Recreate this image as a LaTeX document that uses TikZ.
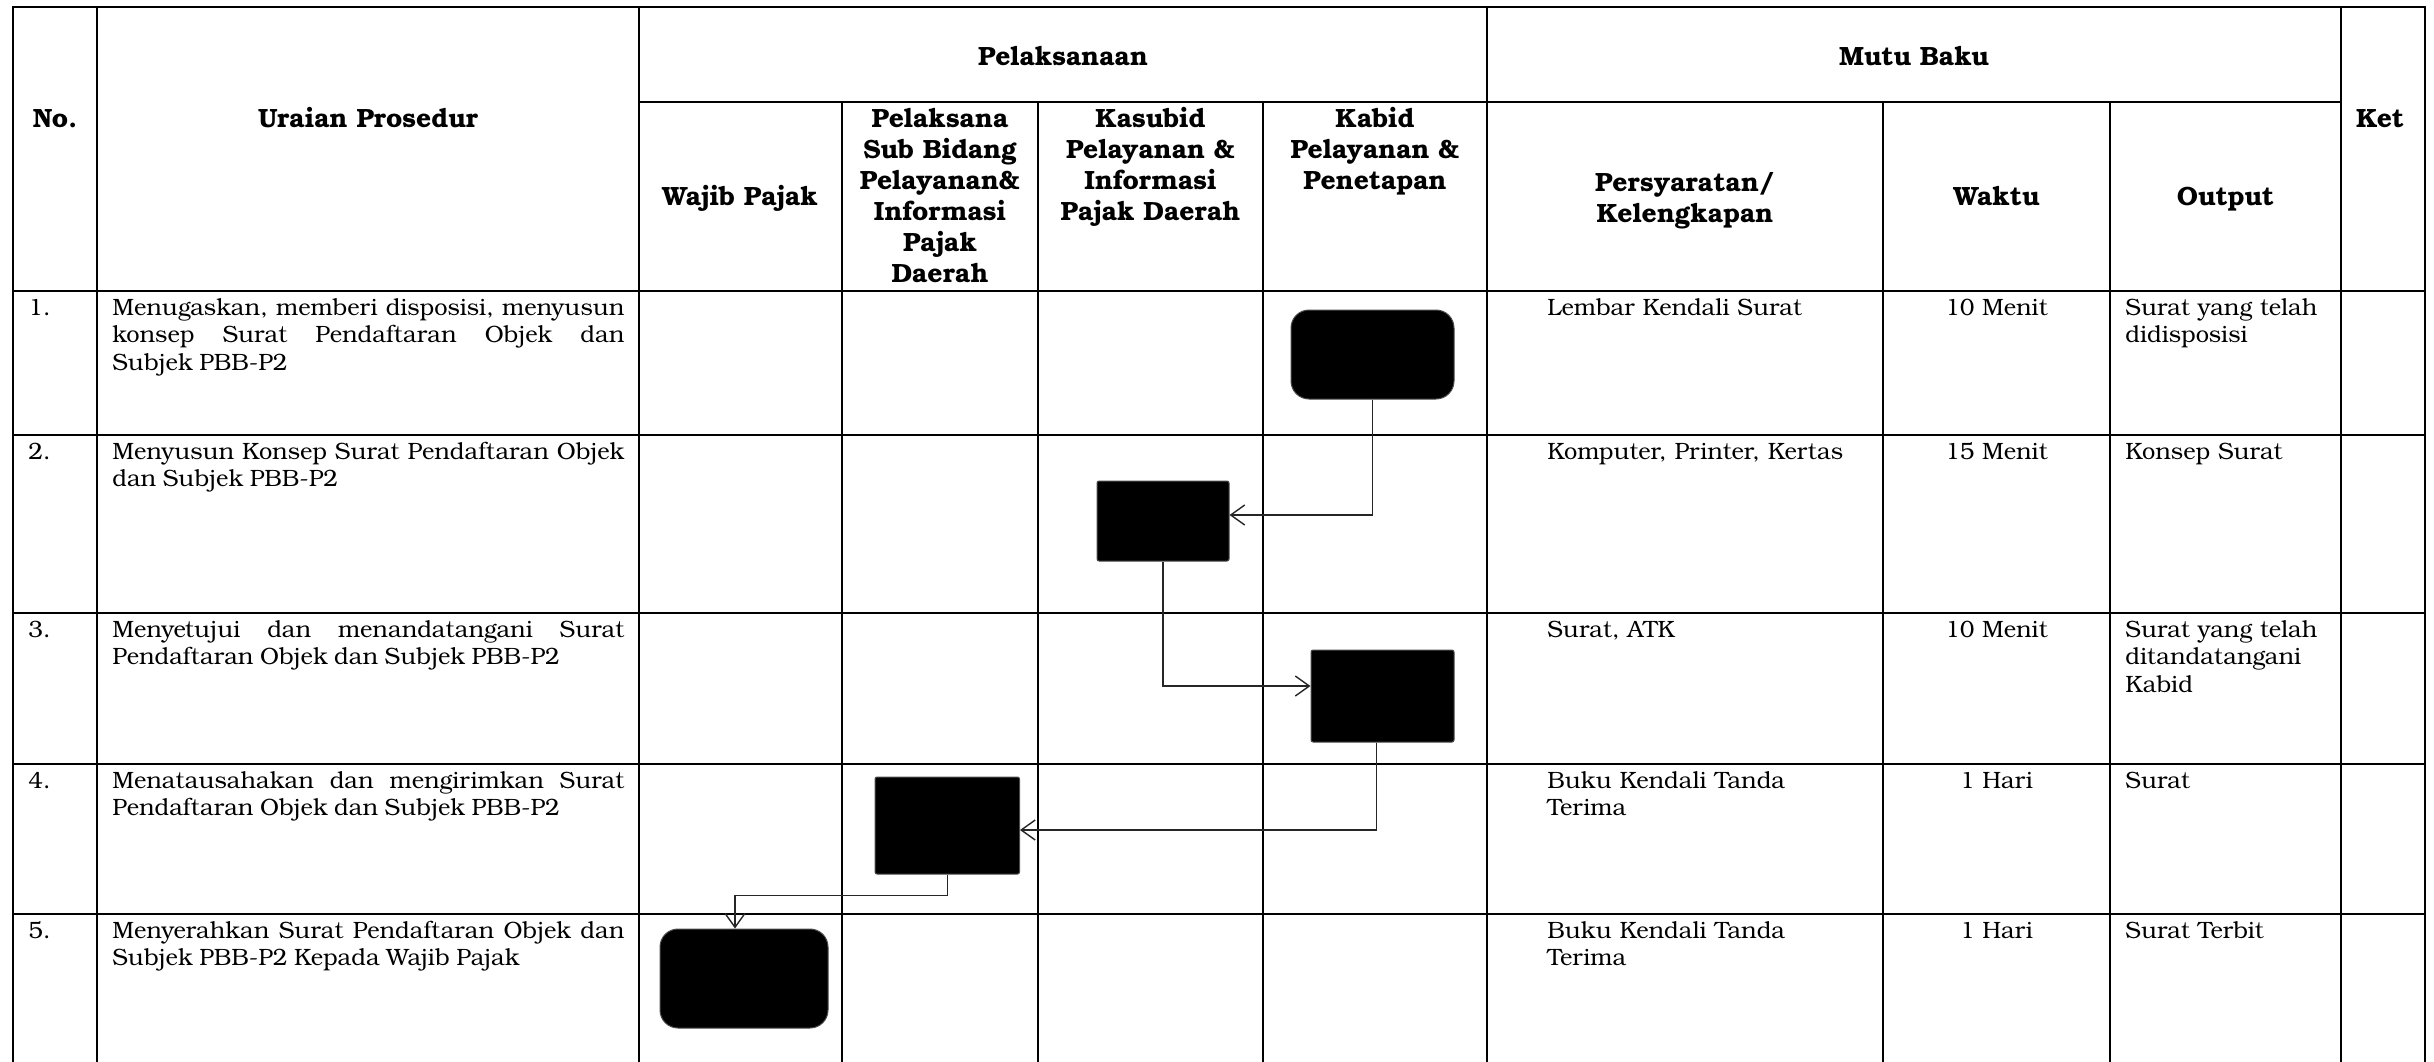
\documentclass[tikz,border=0pt]{standalone}
\usepackage{fontspec}
\setmainfont{TeX Gyre Bonum}
\usetikzlibrary{arrows.meta}
\hyphenpenalty=10000
\begin{document}
\begin{tikzpicture}[x=0.5pt,y=-0.5pt,
  grid/.style={line width=1.1pt,line cap=rect},
  hdr/.style={font=\bfseries\fontsize{13.2}{15.5}\selectfont,inner sep=0pt,align=center},
  bodytxt/.style={font=\fontsize{11.8}{13.85}\selectfont,inner sep=0pt},
  ura/.style={bodytxt,anchor=base west,text width=256pt,align=justify,
    execute at begin node={\spaceskip=0.28em plus 0.8em minus 0.14em\relax}},
  persy/.style={bodytxt,anchor=base west,text width=165pt,align=left},
  outp/.style={bodytxt,anchor=base west,text width=108pt,align=left},
  num/.style={bodytxt,anchor=base west},
  wkt/.style={bodytxt,anchor=base},
  rectstep/.style={fill=black,draw=black!70,line width=0.5pt,rounded corners=1pt},
  termstep/.style={fill=black,draw=black!70,line width=0.5pt,rounded corners=9pt},
  arr/.style={draw=black!85,line width=0.7pt,-{Straight Barb[length=7pt,width=10pt]}}
]
\useasboundingbox (0,0) rectangle (2434,1061);
% ---------- grid ----------
\draw[grid] (13,7) -- (2425,7);
\draw[grid] (639,102) -- (2341,102);
\foreach \yy in {291,435,613,764,914} \draw[grid] (13,\yy) -- (2425,\yy);
\foreach \xx in {13,97,639,1487,2341,2425} \draw[grid] (\xx,7) -- (\xx,1061);
\foreach \xx in {842,1038,1263,1883,2110} \draw[grid] (\xx,102) -- (\xx,1061);
% ---------- header ----------
\node[hdr,anchor=base] (hNo) at (55,127) {No.};
\node[hdr,anchor=base] (hUraian) at (368,127) {Uraian Prosedur};
\node[hdr,anchor=base] (hPelaksanaan) at (1063,65) {Pelaksanaan};
\node[hdr,anchor=base] (hMutu) at (1914,65) {Mutu Baku};
\node[hdr,anchor=base] (hKet) at (2380,127) {Ket};
\node[hdr,anchor=base] (hWajib) at (740,205) {Wajib Pajak};
\node[hdr,anchor=base,text width=96pt] (hPelaksana) at (940,127) {Pelaksana\\Sub Bidang\\Pelayanan\&\\Informasi\\Pajak\\Daerah};
\node[hdr,anchor=base,text width=110pt] (hKasubid) at (1150.5,127) {Kasubid\\Pelayanan \&\\Informasi\\Pajak Daerah};
\node[hdr,anchor=base,text width=110pt] (hKabid) at (1375,127) {Kabid\\Pelayanan \&\\Penetapan};
\node[hdr,anchor=base,text width=150pt] (hPersy) at (1685,191) {Persyaratan/\\Kelengkapan};
\node[hdr,anchor=base] (hWaktu) at (1996.5,205) {Waktu};
\node[hdr,anchor=base] (hOutput) at (2225.5,205) {Output};
% ---------- rows ----------
\node[num] (n1) at (28,315) {1.};
\node[num] (n2) at (28,459) {2.};
\node[num] (n3) at (28,637) {3.};
\node[num] (n4) at (28,788) {4.};
\node[num] (n5) at (28,938) {5.};
\node[ura] (u1) at (112,315) {Menugaskan, memberi disposisi, menyusun\linebreak konsep Surat Pendaftaran Objek dan\linebreak Subjek PBB-P2};
\node[ura] (u2) at (112,459) {Menyusun Konsep Surat Pendaftaran Objek\linebreak dan Subjek PBB-P2};
\node[ura] (u3) at (112,637) {Menyetujui dan menandatangani Surat\linebreak Pendaftaran Objek dan Subjek PBB-P2};
\node[ura] (u4) at (112,788) {Menatausahakan dan mengirimkan Surat\linebreak Pendaftaran Objek dan Subjek PBB-P2};
\node[ura] (u5) at (112,938) {Menyerahkan Surat Pendaftaran Objek dan\linebreak Subjek PBB-P2 Kepada Wajib Pajak};
\node[persy] (p1) at (1547,315) {Lembar Kendali Surat};
\node[persy] (p2) at (1547,459) {Komputer, Printer, Kertas};
\node[persy] (p3) at (1547,637) {Surat, ATK};
\node[persy] (p4) at (1547,788) {Buku Kendali Tanda\\Terima};
\node[persy] (p5) at (1547,938) {Buku Kendali Tanda\\Terima};
\node[wkt] (w1) at (1996.5,315) {10 Menit};
\node[wkt] (w2) at (1996.5,459) {15 Menit};
\node[wkt] (w3) at (1996.5,637) {10 Menit};
\node[wkt] (w4) at (1996.5,788) {1 Hari};
\node[wkt] (w5) at (1996.5,938) {1 Hari};
\node[outp] (o1) at (2125,315) {Surat yang telah\\didisposisi};
\node[outp] (o2) at (2125,459) {Konsep Surat};
\node[outp] (o3) at (2125,637) {Surat yang telah\\ditandatangani\\Kabid};
\node[outp] (o4) at (2125,788) {Surat};
\node[outp] (o5) at (2125,938) {Surat Terbit};
% ---------- flow shapes ----------
\node[termstep,minimum width=81.5pt,minimum height=44.5pt] (s1) at (1372.5,354.5) {};
\node[rectstep,minimum width=66pt,minimum height=40pt] (s2) at (1163,521) {};
\node[rectstep,minimum width=71.5pt,minimum height=46pt] (s3) at (1382.5,696) {};
\node[rectstep,minimum width=72.25pt,minimum height=48.5pt] (s4) at (947.25,825.5) {};
\node[termstep,minimum width=84pt,minimum height=49.5pt] (s5) at (744,978.5) {};
% ---------- connectors ----------
\draw[arr] (s1.south) |- ([yshift=3pt]s2.east);
\draw[arr] (s2.south) |- ([yshift=5pt]s3.west);
\draw[arr] ([xshift=-3pt]s3.south) |- ([yshift=-2.25pt]s4.east);
\draw[arr] (s4.south) -- ++(0,21) -| ([xshift=-4.5pt]s5.north);
\end{tikzpicture}
\end{document}
